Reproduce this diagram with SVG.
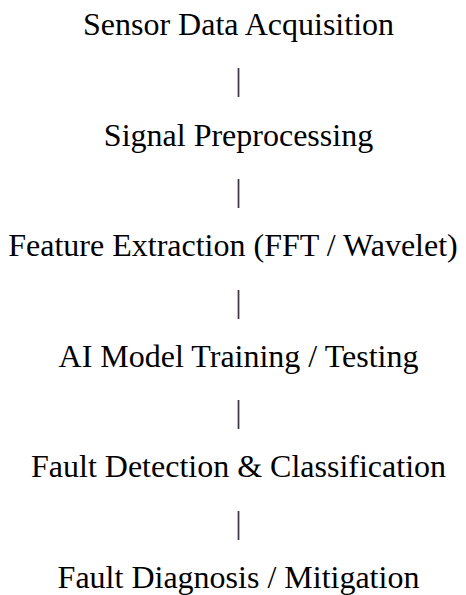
<svg xmlns="http://www.w3.org/2000/svg" width="466" height="595" viewBox="0 0 466 595">
  <style>
    .t { font-family: "Liberation Serif", "Times New Roman", serif; font-size: 32px; fill: #000; text-anchor: middle; }
    .p { font-family: "Liberation Serif", "Times New Roman", serif; font-size: 32px; fill: #333; text-anchor: middle; }
  </style>
  <rect width="466" height="595" fill="#fff"/>
  <g id="connectors">
    <text class="p" x="238.5" y="90.3">|</text>
    <text class="p" x="238.5" y="200.9">|</text>
    <text class="p" x="238.5" y="311.5">|</text>
    <text class="p" x="238.5" y="422.1">|</text>
    <text class="p" x="238.5" y="532.7">|</text>
  </g>
  <g id="node-acquisition"><text class="t" x="238.5" y="35">Sensor Data Acquisition</text></g>
  <g id="node-preprocessing"><text class="t" x="238.5" y="145.6">Signal Preprocessing</text></g>
  <g id="node-features"><text class="t" x="233" y="256.2">Feature Extraction (FFT / Wavelet)</text></g>
  <g id="node-model"><text class="t" x="238.5" y="366.8">AI Model Training / Testing</text></g>
  <g id="node-detection"><text class="t" x="238.5" y="477.4">Fault Detection &amp; Classification</text></g>
  <g id="node-diagnosis"><text class="t" x="238.5" y="588">Fault Diagnosis / Mitigation</text></g>
</svg>
